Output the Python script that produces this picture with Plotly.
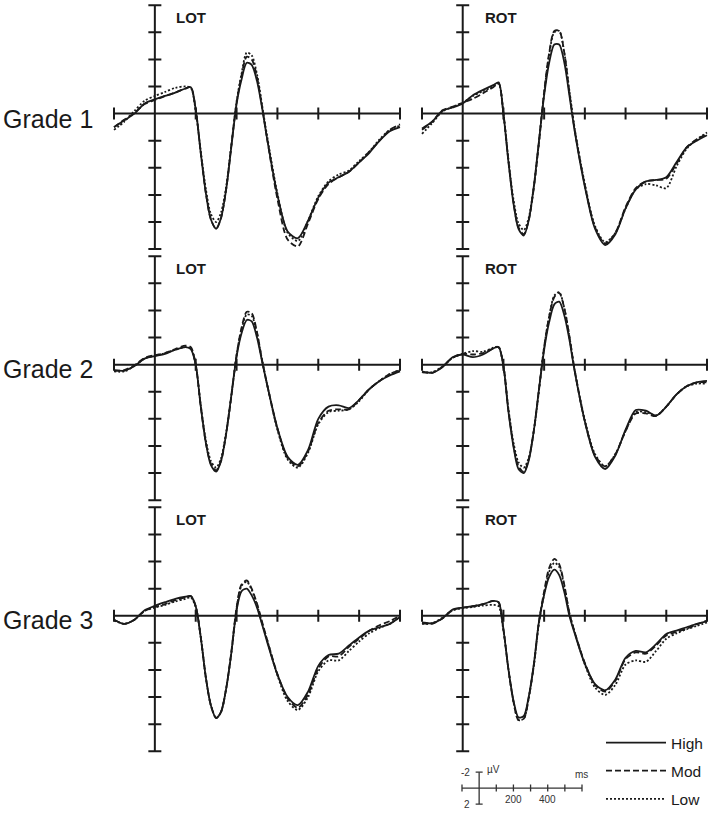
import plotly.graph_objects as go

# ---------------- data (µV, negative plotted upward) ----------------
T = [-100, -75, -50, -25, 0, 25, 50, 75, 88, 100, 112, 125, 137, 150, 162, 175, 187,
     200, 212, 225, 237, 250, 262, 275, 300, 325, 350, 375, 400, 425, 450, 475, 500,
     525, 550, 575, 600]

G1_LOT_high = [1.0, 0.5, 0.0, -0.75, -1.05, -1.3, -1.55, -1.85, -1.95, -0.3, 2.8, 5.9, 7.8, 8.5, 7.7, 5.5, 2.5, -0.7, -2.5, -3.75, -3.6, -2.4, -0.5, 1.9, 6.0, 8.7, 9.2, 7.9, 6.2, 5.1, 4.7, 4.3, 3.6, 2.9, 2.0, 1.3, 1.0]
G1_LOT_mod = [1.0, 0.45, -0.05, -0.7, -1.0, -1.3, -1.55, -1.85, -1.95, -0.3, 2.8, 5.9, 7.8, 8.5, 7.7, 5.5, 2.4, -0.8, -2.8, -4.2, -4.0, -2.7, -0.6, 1.9, 6.3, 9.3, 9.8, 8.1, 6.3, 5.2, 4.7, 4.3, 3.6, 2.8, 2.0, 1.2, 0.8]
G1_LOT_low = [1.2, 0.6, -0.2, -0.95, -1.3, -1.6, -1.9, -2.0, -1.9, -0.2, 2.7, 5.6, 7.4, 8.0, 7.3, 5.3, 2.4, -0.9, -2.9, -4.5, -4.3, -2.9, -0.7, 1.7, 5.9, 8.8, 9.4, 7.9, 6.1, 5.0, 4.5, 4.2, 3.5, 2.8, 1.9, 1.2, 0.9]

G1_ROT_high = [1.1, 0.6, -0.2, -0.45, -0.75, -1.35, -1.75, -2.1, -2.3, 0.0, 3.5, 6.7, 8.5, 9.0, 7.9, 5.3, 2.1, -1.35, -3.7, -5.1, -5.1, -3.7, -1.35, 1.3, 5.4, 8.5, 9.7, 8.9, 7.0, 5.6, 5.0, 4.9, 4.7, 3.6, 2.5, 2.0, 1.6]
G1_ROT_mod = [1.2, 0.6, -0.25, -0.5, -0.8, -1.1, -1.5, -1.95, -2.25, 0.0, 3.4, 6.6, 8.4, 8.9, 7.9, 5.4, 2.2, -1.6, -4.4, -6.1, -6.1, -4.4, -1.6, 1.2, 5.3, 8.4, 9.6, 8.8, 6.9, 5.5, 5.0, 4.9, 4.8, 3.7, 2.5, 1.9, 1.5]
G1_ROT_low = [1.5, 0.7, -0.15, -0.5, -0.8, -1.3, -1.65, -2.0, -2.2, 0.0, 3.3, 6.4, 8.1, 8.6, 7.7, 5.3, 2.2, -1.5, -4.3, -6.0, -6.1, -4.4, -1.7, 1.1, 5.2, 8.3, 9.5, 8.8, 7.0, 5.6, 5.2, 5.3, 5.5, 3.9, 2.6, 1.9, 1.4]

G2_LOT_high = [0.4, 0.45, 0.1, -0.45, -0.63, -0.8, -1.1, -1.3, -1.15, 0.0, 3.0, 5.8, 7.4, 7.9, 7.1, 5.0, 2.3, -0.6, -2.3, -3.3, -3.2, -2.0, -0.3, 1.5, 4.7, 6.8, 7.4, 6.3, 4.0, 3.1, 3.0, 3.2, 2.6, 1.8, 1.2, 0.8, 0.5]
G2_LOT_mod = [0.45, 0.4, 0.05, -0.5, -0.7, -0.85, -1.15, -1.4, -1.3, 0.0, 3.0, 5.8, 7.3, 7.8, 7.1, 5.0, 2.4, -0.7, -2.7, -3.9, -3.8, -2.4, -0.4, 1.5, 4.7, 6.9, 7.5, 6.4, 4.3, 3.4, 3.3, 3.3, 2.6, 1.8, 1.2, 0.7, 0.4]
G2_LOT_low = [0.5, 0.5, 0.1, -0.45, -0.65, -0.85, -1.1, -1.3, -1.2, 0.0, 2.9, 5.6, 7.1, 7.6, 6.9, 4.9, 2.3, -0.7, -2.6, -3.7, -3.6, -2.3, -0.4, 1.5, 4.8, 7.0, 7.6, 6.5, 4.4, 3.5, 3.4, 3.3, 2.7, 1.8, 1.2, 0.7, 0.4]

G2_ROT_high = [0.5, 0.6, 0.2, -0.55, -0.75, -0.55, -0.75, -1.2, -1.3, 0.1, 3.4, 6.1, 7.7, 8.0, 7.1, 4.8, 1.9, -1.1, -3.1, -4.45, -4.65, -3.6, -1.85, 0.5, 4.2, 6.8, 7.7, 6.7, 4.8, 3.35, 3.4, 3.75, 3.1, 2.2, 1.6, 1.3, 1.2]
G2_ROT_mod = [0.55, 0.6, 0.15, -0.5, -0.8, -0.75, -0.85, -1.2, -1.3, 0.1, 3.3, 6.0, 7.5, 7.9, 7.0, 4.8, 1.9, -1.3, -3.5, -5.0, -5.3, -4.1, -2.1, 0.4, 4.2, 6.7, 7.5, 6.6, 4.9, 3.6, 3.6, 3.8, 3.1, 2.2, 1.6, 1.3, 1.3]
G2_ROT_low = [0.55, 0.55, 0.15, -0.5, -0.8, -1.0, -0.95, -1.25, -1.3, 0.1, 3.2, 5.8, 7.2, 7.6, 6.9, 4.8, 2.0, -1.3, -3.5, -5.1, -5.35, -4.1, -2.1, 0.4, 4.1, 6.6, 7.5, 6.6, 4.9, 3.5, 3.5, 3.75, 3.1, 2.2, 1.6, 1.4, 1.4]

G3_LOT_high = [0.3, 0.6, 0.3, -0.4, -0.73, -1.0, -1.25, -1.4, -1.45, -0.7, 1.5, 4.6, 6.6, 7.55, 7.1, 5.3, 2.8, -0.4, -1.8, -2.0, -1.5, -0.6, 0.6, 1.95, 4.35, 6.0, 6.6, 5.6, 3.7, 2.9, 2.8, 2.2, 1.6, 1.1, 0.85, 0.6, 0.1]
G3_LOT_mod = [0.3, 0.6, 0.3, -0.35, -0.65, -0.85, -1.15, -1.35, -1.45, -0.7, 1.5, 4.6, 6.6, 7.55, 7.1, 5.3, 2.7, -0.6, -2.3, -2.6, -2.0, -0.9, 0.4, 1.8, 4.3, 6.1, 6.8, 5.8, 3.9, 3.0, 3.0, 2.3, 1.7, 1.1, 0.7, 0.4, 0.0]
G3_LOT_low = [0.35, 0.6, 0.3, -0.35, -0.6, -0.8, -1.05, -1.25, -1.35, -0.65, 1.5, 4.6, 6.6, 7.55, 7.1, 5.3, 2.8, -0.5, -2.2, -2.5, -1.9, -0.8, 0.5, 1.8, 4.4, 6.3, 6.95, 6.0, 4.1, 3.3, 3.3, 2.6, 1.9, 1.3, 0.9, 0.6, 0.1]

G3_ROT_high = [0.5, 0.55, 0.2, -0.45, -0.6, -0.7, -0.85, -1.1, -1.0, 1.0, 3.9, 6.3, 7.5, 7.4, 6.0, 3.5, 0.5, -1.55, -2.85, -3.4, -3.0, -1.7, 0.0, 1.3, 3.55, 5.05, 5.5, 4.7, 3.1, 2.6, 2.7, 2.1, 1.35, 1.1, 0.85, 0.6, 0.4]
G3_ROT_mod = [0.55, 0.6, 0.2, -0.4, -0.6, -0.7, -0.85, -1.1, -1.0, 1.0, 3.9, 6.4, 7.7, 7.6, 6.1, 3.6, 0.5, -1.8, -3.5, -4.2, -3.8, -2.2, -0.2, 1.2, 3.5, 5.1, 5.6, 4.8, 3.2, 2.7, 2.8, 2.2, 1.45, 1.2, 0.95, 0.65, 0.35]
G3_ROT_low = [0.6, 0.55, 0.15, -0.4, -0.55, -0.65, -0.75, -0.8, -0.7, 1.1, 3.9, 6.4, 7.7, 7.6, 6.1, 3.6, 0.6, -1.6, -3.2, -3.9, -3.6, -2.1, -0.2, 1.2, 3.6, 5.3, 5.85, 5.1, 3.6, 3.3, 3.4, 2.6, 1.7, 1.3, 1.0, 0.75, 0.5]

GRADES = ["Grade 1", "Grade 2", "Grade 3"]
SITES = ["LOT", "ROT"]
CONDITIONS = ["High", "Mod", "Low"]
PANELS = [
    [(G1_LOT_high, G1_LOT_mod, G1_LOT_low), (G1_ROT_high, G1_ROT_mod, G1_ROT_low)],
    [(G2_LOT_high, G2_LOT_mod, G2_LOT_low), (G2_ROT_high, G2_ROT_mod, G2_ROT_low)],
    [(G3_LOT_high, G3_LOT_mod, G3_LOT_low), (G3_ROT_high, G3_ROT_mod, G3_ROT_low)],
]
X_TICKS = [-100, 100, 200, 300, 400, 500, 600]
Y_TICKS = [-8, -6, -4, -2, 2, 4, 6, 8, 10]
X_END = [-100, 600]
Y_END = [-8, 10]

# calibration bar
SCALE_X_TICKS = [-100, 100, 200, 300, 400, 500, 600]
SCALE_X_LABELS = [200, 400]
SCALE_Y_END = [-2, 2]

# ---------------- layout geometry ----------------
W, H = 712, 816
INK = "#1a1a1a"
FONT = "Liberation Sans, Arial, sans-serif"
DASHES = ["solid", "6px,3px", "2px,2px"]
COL_PX = [(114, 400), (422, 707)]
ROW_ZERO_PX = [114, 366, 618]
UV_PX = 13.6
X_RANGE = [-110, 610]
Y_RANGE = [10.3, -8.3]

fig = go.Figure()
layout = dict(width=W, height=H, margin=dict(l=0, r=0, t=0, b=0),
              paper_bgcolor="white", plot_bgcolor="rgba(0,0,0,0)")
shapes, annotations = [], []


def axis_common():
    return dict(visible=False, showgrid=False, zeroline=False, fixedrange=True)


for r in range(3):
    for c in range(2):
        idx = r * 2 + c + 1
        xa, ya = ("x" if idx == 1 else f"x{idx}"), ("y" if idx == 1 else f"y{idx}")
        xl, xr = COL_PX[c]
        s = (xr - xl) / 700.0
        dx0 = (xl + (X_RANGE[0] + 100) * s) / W
        dx1 = (xl + (X_RANGE[1] + 100) * s) / W
        top = ROW_ZERO_PX[r] + Y_RANGE[1] * UV_PX
        bot = ROW_ZERO_PX[r] + Y_RANGE[0] * UV_PX
        layout[f"xaxis{idx}"] = dict(domain=[dx0, dx1], range=X_RANGE, anchor=ya, **axis_common())
        layout[f"yaxis{idx}"] = dict(domain=[1 - bot / H, 1 - top / H], range=Y_RANGE, anchor=xa, **axis_common())

        for k, (cond, vals) in enumerate(zip(CONDITIONS, PANELS[r][c])):
            fig.add_trace(go.Scatter(
                x=T, y=vals, mode="lines", name=cond, legendgroup=cond,
                showlegend=(idx == 1), xaxis=xa, yaxis=ya,
                line=dict(color=INK, width=1.8, dash=DASHES[k], shape="spline", smoothing=0.8),
                hoverinfo="skip"))

        lw = 2
        shapes.append(dict(type="line", xref=xa, yref=ya, x0=X_END[0], x1=X_END[1], y0=0, y1=0,
                           line=dict(color=INK, width=lw)))
        shapes.append(dict(type="line", xref=xa, yref=ya, x0=0, x1=0, y0=Y_END[0], y1=Y_END[1],
                           line=dict(color=INK, width=lw)))
        for t in X_TICKS:
            shapes.append(dict(type="line", xref=xa, yref=ya, x0=t, x1=t, ysizemode="pixel",
                               yanchor=0, y0=-6, y1=6, line=dict(color=INK, width=lw)))
        for v in Y_TICKS:
            shapes.append(dict(type="line", xref=xa, yref=ya, y0=v, y1=v, xsizemode="pixel",
                               xanchor=0, x0=-6.5, x1=6.5, line=dict(color=INK, width=lw)))
        annotations.append(dict(xref=xa, yref=ya, x=(46 if c == 0 else 49), y=-7.1,
                                text=f"<b>{SITES[c]}</b>", showarrow=False, xanchor="left",
                                yanchor="middle", font=dict(family=FONT, size=15, color=INK)))

# grade labels
GRADE_Y_PX = [119, 370, 622]
for g, ypx in zip(GRADES, GRADE_Y_PX):
    annotations.append(dict(xref="paper", yref="paper", x=1 / W, y=1 - ypx / H, text=g,
                            showarrow=False, xanchor="left", yanchor="middle",
                            font=dict(family=FONT, size=25, color=INK)))

# calibration bar subplot (x7/y7)
sx0, sx1 = 462, 582
ss = (sx1 - sx0) / 700.0
sy_zero, sy_px = 791, 8.0
SX_RANGE = [-110, 610]
SY_RANGE = [2.4, -2.4]
layout["xaxis7"] = dict(domain=[(sx0 + (SX_RANGE[0] + 100) * ss) / W, (sx0 + (SX_RANGE[1] + 100) * ss) / W],
                        range=SX_RANGE, anchor="y7", **axis_common())
layout["yaxis7"] = dict(domain=[1 - (sy_zero + SY_RANGE[0] * sy_px) / H, 1 - (sy_zero + SY_RANGE[1] * sy_px) / H],
                        range=SY_RANGE, anchor="x7", **axis_common())
SC = "#333333"
shapes.append(dict(type="line", xref="x7", yref="y7", x0=SCALE_X_TICKS[0], x1=SCALE_X_TICKS[-1], y0=0, y1=0,
                   line=dict(color=SC, width=1.3)))
shapes.append(dict(type="line", xref="x7", yref="y7", x0=0, x1=0, y0=SCALE_Y_END[0], y1=SCALE_Y_END[1],
                   line=dict(color=SC, width=1.3)))
for t in SCALE_X_TICKS:
    shapes.append(dict(type="line", xref="x7", yref="y7", x0=t, x1=t, ysizemode="pixel", yanchor=0,
                       y0=-3.5, y1=3.5, line=dict(color=SC, width=1.3)))
for v in SCALE_Y_END:
    shapes.append(dict(type="line", xref="x7", yref="y7", y0=v, y1=v, xsizemode="pixel", xanchor=0,
                       x0=-3.5, x1=3.5, line=dict(color=SC, width=1.3)))
sfont = dict(family=FONT, size=10, color=SC)
annotations.append(dict(xref="x7", yref="y7", x=-40, y=SCALE_Y_END[0], text=str(SCALE_Y_END[0]),
                        showarrow=False, xanchor="right", yanchor="middle", font=sfont))
annotations.append(dict(xref="x7", yref="y7", x=-40, y=SCALE_Y_END[1], text=str(SCALE_Y_END[1]),
                        showarrow=False, xanchor="right", yanchor="middle", font=sfont))
annotations.append(dict(xref="x7", yref="y7", x=35, y=-2.3, text="µV",
                        showarrow=False, xanchor="left", yanchor="middle", font=sfont))
for t in SCALE_X_LABELS:
    annotations.append(dict(xref="x7", yref="y7", x=t, y=1.4, text=str(t),
                            showarrow=False, xanchor="center", yanchor="middle", font=sfont))
annotations.append(dict(xref="x7", yref="y7", x=600, y=-1.7, text="ms",
                        showarrow=False, xanchor="center", yanchor="middle", font=sfont))

layout["shapes"] = shapes
layout["annotations"] = annotations
layout["showlegend"] = True
layout["legend"] = dict(x=601 / W, y=1 - 729 / H, xanchor="left", yanchor="top",
                        font=dict(family=FONT, size=15.5, color=INK),
                        bgcolor="rgba(0,0,0,0)", itemwidth=60, tracegroupgap=5,
                        traceorder="grouped")
fig.update_layout(**layout)
fig.write_html("out.html", config={"displayModeBar": False},
               post_script="document.body.style.margin='0px';document.body.style.overflow='hidden';")
